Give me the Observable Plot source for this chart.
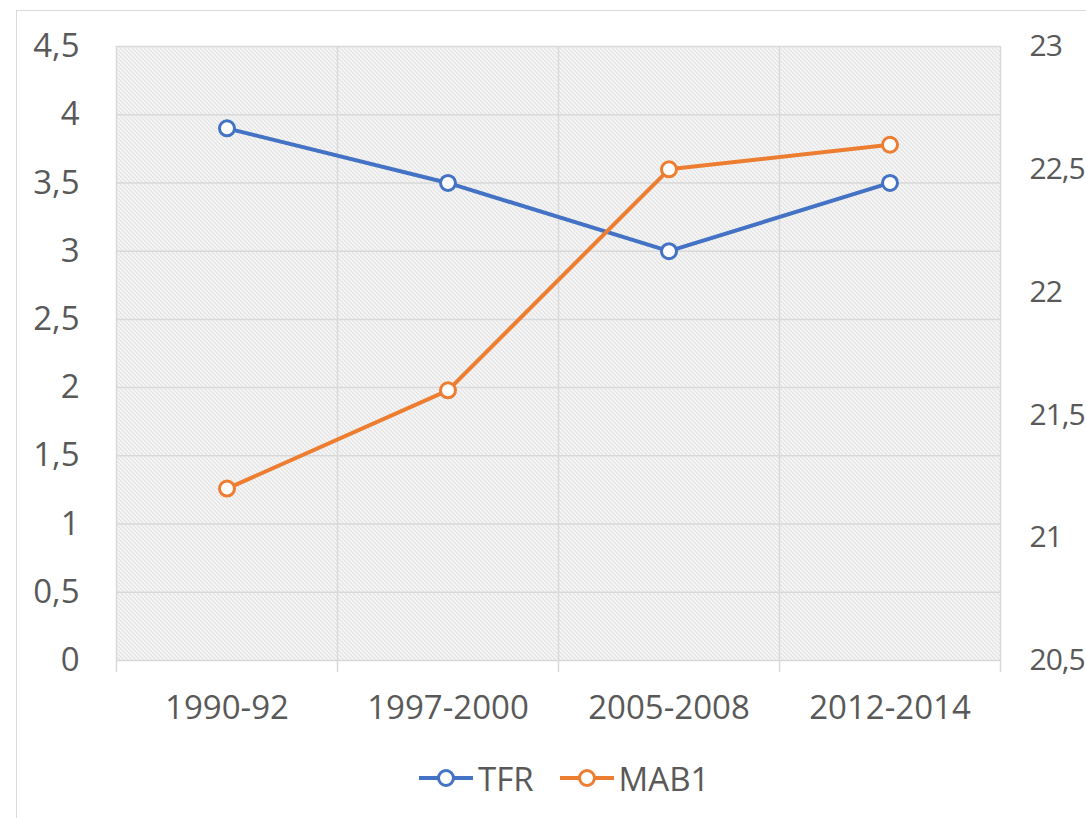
<!DOCTYPE html>
<html><head><meta charset="utf-8">
<script src="https://cdn.jsdelivr.net/npm/d3@7"></script>
<script src="https://cdn.jsdelivr.net/npm/@observablehq/plot@0.6"></script>
<style>
body{margin:0;background:#fff;font-family:"Open Sans",sans-serif;overflow:hidden;width:1086px;height:818px;position:relative}
#frame{position:absolute;left:16px;top:10px;width:1200px;height:1000px;border:1.5px solid #d9d9d9;box-sizing:border-box}
#chart{position:absolute;left:0;top:0}
#legend{position:absolute;top:757px;left:419px;height:42px;display:flex;align-items:center;font-size:33px;color:#595959;font-family:"Open Sans",sans-serif}
.item{display:flex;align-items:center;margin-right:26px}
.item svg{margin-right:5px}
</style>
</head><body>
<div id="frame"></div>
<div id="chart"></div>
<div id="legend"></div>
<script>
const periods = ["1990-92", "1997-2000", "2005-2008", "2012-2014"];
const tfr = [3.9, 3.5, 3.0, 3.5];
const mab1 = [21.2, 21.6, 22.5, 22.6];
const leftTicks = [0, 0.5, 1, 1.5, 2, 2.5, 3, 3.5, 4, 4.5];
const rightTicks = [20.5, 21, 21.5, 22, 22.5, 23];
const seriesNames = ["TFR", "MAB1"];
const seriesColors = ["#4472C4", "#ED7D31"];

const leftMin = 0, leftMax = 4.5, rightMin = 20.5, rightMax = 23;
const toLeft = r => (r - rightMin) / (rightMax - rightMin) * (leftMax - leftMin) + leftMin;
const fromLeft = v => (v - leftMin) / (leftMax - leftMin) * (rightMax - rightMin) + rightMin;
const fmt = v => String(Math.round(v * 10) / 10).replace(".", ",");

const rows = periods.map((p, i) => ({i, period: p, tfr: tfr[i], mab1: toLeft(mab1[i])}));
const boundaries = d3.range(-0.5, periods.length, 1);

const plot = Plot.plot({
  width: 1086, height: 745,
  marginLeft: 116, marginRight: 86, marginTop: 46, marginBottom: 85,
  style: {fontSize: "33px", fontFamily: "'Open Sans', sans-serif", color: "#595959", background: "transparent", overflow: "visible"},
  x: {domain: [-0.5, periods.length - 0.5], axis: null},
  y: {domain: [leftMin, leftMax], axis: null},
  marks: [
    Plot.frame({fill: "url(#hatch)", stroke: null}),
    Plot.gridY(leftTicks, {stroke: "#d9d9d9", strokeOpacity: 1, strokeWidth: 1.5}),
    Plot.ruleX(boundaries, {stroke: "#d9d9d9", strokeWidth: 1.5, insetBottom: -12}),
    Plot.axisY(leftTicks, {anchor: "left", tickSize: 0, tickPadding: 37, tickFormat: fmt, label: null}),
    Plot.axisY(rightTicks.map(toLeft), {anchor: "right", tickSize: 0, tickPadding: 29, fontSize: 30, tickFormat: d => fmt(fromLeft(d)), label: null}),
    Plot.axisX(d3.range(periods.length), {anchor: "bottom", tickSize: 0, tickPadding: 35, tickFormat: i => periods[i], label: null}),
    Plot.line(rows, {x: "i", y: "tfr", stroke: seriesColors[0], strokeWidth: 4}),
    Plot.line(rows, {x: "i", y: "mab1", stroke: seriesColors[1], strokeWidth: 4}),
    Plot.dot(rows, {x: "i", y: "tfr", r: 7.5, fill: "white", stroke: seriesColors[0], strokeWidth: 3}),
    Plot.dot(rows, {x: "i", y: "mab1", r: 7.5, fill: "white", stroke: seriesColors[1], strokeWidth: 3})
  ]
});

const defs = d3.select(plot).insert("defs", ":first-child");
const pat = defs.append("pattern").attr("id", "hatch").attr("patternUnits", "userSpaceOnUse")
  .attr("width", 4).attr("height", 4);
pat.append("rect").attr("width", 4).attr("height", 4).attr("fill", "white");
pat.append("path").attr("d", "M-1,-1 L5,5 M-1,3 L1,5 M3,-1 L5,1")
  .attr("stroke", "#d4d4d4").attr("stroke-width", 1.1);

d3.select(plot).selectAll("g[aria-label='y-axis tick label']").each(function() {
  const g = d3.select(this);
  if (g.attr("text-anchor") === "start") g.attr("letter-spacing", "-1px");
});

document.getElementById("chart").appendChild(plot);

const legend = d3.select("#legend");
seriesNames.forEach((name, k) => {
  const item = legend.append("div").attr("class", "item");
  const s = item.append("svg").attr("width", 54).attr("height", 20);
  s.append("line").attr("x1", 0).attr("x2", 54).attr("y1", 10).attr("y2", 10)
    .attr("stroke", seriesColors[k]).attr("stroke-width", 4);
  s.append("circle").attr("cx", 27).attr("cy", 10).attr("r", 7.5)
    .attr("fill", "white").attr("stroke", seriesColors[k]).attr("stroke-width", 3);
  item.append("span").text(name);
});
</script>
</body></html>
